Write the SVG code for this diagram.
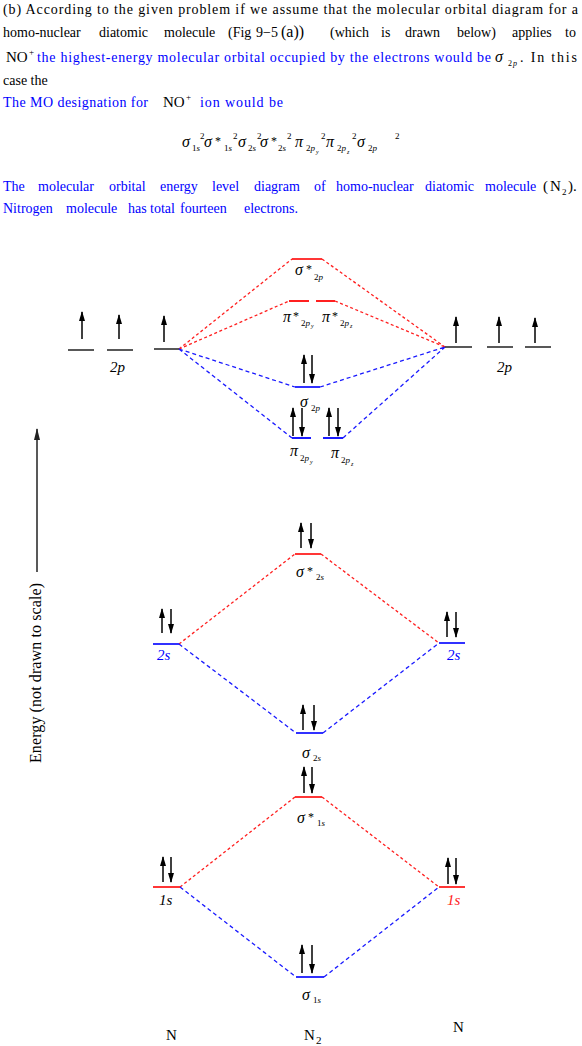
<svg xmlns="http://www.w3.org/2000/svg" width="582" height="1046" viewBox="0 0 582 1046" font-family="'Liberation Serif','Times New Roman',serif" font-size="14">
<style>
.b{fill:#0000ff}
.rt{fill:#ff2020}
.i{font-style:italic}
.sub{font-size:9px}
.ss{font-size:6px;font-style:italic}
.sym{font-size:16px;font-style:italic}
.st{font-size:12px}
.lab{font-size:15px;font-style:italic}
.lvr{stroke:#ff2020;stroke-width:1.8;fill:none}
.lvb{stroke:#1a1aff;stroke-width:1.8;fill:none}
.lvk{stroke:#222;stroke-width:1.6;fill:none}
.dr{stroke:#ff2020;stroke-width:1.3;stroke-dasharray:3 2.5;fill:none}
.db{stroke:#1a1aff;stroke-width:1.3;stroke-dasharray:4 3;fill:none}
.e{stroke:#000;stroke-width:1.5;fill:none;marker-end:url(#ah)}
</style>
<defs>
<marker id="ah" viewBox="0 0 10 6" refX="9" refY="3" markerWidth="10" markerHeight="6" markerUnits="userSpaceOnUse" orient="auto">
<path d="M0,0 L10,3 L0,6 z" fill="#000"/>
</marker>
<marker id="ah2" viewBox="0 0 12 6" refX="11" refY="3" markerWidth="12" markerHeight="6" markerUnits="userSpaceOnUse" orient="auto">
<path d="M0,0 L12,3 L0,6 z" fill="#222"/>
</marker>
</defs>

<g id="intro-text">
<text x="3" y="14" textLength="575" lengthAdjust="spacing">(b) According to the given problem if we assume that the molecular orbital diagram for a</text>
<text y="37"><tspan x="3">homo-nuclear</tspan><tspan x="99">diatomic</tspan><tspan x="164">molecule</tspan><tspan x="228">(Fig</tspan><tspan x="256">9−5</tspan><tspan x="281" font-size="16">(a))</tspan><tspan x="330">(which</tspan><tspan x="381">is</tspan><tspan x="405">drawn</tspan><tspan x="457">below)</tspan><tspan x="512">applies</tspan><tspan x="565">to</tspan></text>
<text x="6" y="62" font-size="15">NO</text>
<text x="29" y="55" font-size="9">+</text>
<text class="b" x="37" y="62" textLength="454" lengthAdjust="spacing">the highest-energy molecular orbital occupied by the electrons would be</text>
<text x="495" y="62" class="sym">σ</text>
<text x="508" y="66" font-size="8">2</text>
<text x="513" y="66" font-size="8" font-style="italic">p</text>
<text x="520" y="62" textLength="57" lengthAdjust="spacing">. In this</text>
<text x="3" y="85">case the</text>
<text class="b" x="3" y="107" textLength="145" lengthAdjust="spacing">The MO designation for</text>
<text x="163" y="107" font-size="15">NO</text>
<text x="186" y="100" font-size="9">+</text>
<text class="b" x="200" y="107" textLength="83" lengthAdjust="spacing">ion would be</text>
</g>

<g id="formula">
<text x="182" y="147" class="sym">σ</text><text x="192" y="151" class="sub">1<tspan class="i">s</tspan></text><text x="200" y="139" class="sub">2</text>
<text x="204" y="147" class="sym">σ</text><text x="215" y="145" class="st">*</text><text x="224" y="151" class="sub">1<tspan class="i">s</tspan></text><text x="233" y="139" class="sub">2</text>
<text x="238" y="147" class="sym">σ</text><text x="248" y="151" class="sub">2<tspan class="i">s</tspan></text><text x="257" y="139" class="sub">2</text>
<text x="260" y="147" class="sym">σ</text><text x="271" y="145" class="st">*</text><text x="278" y="151" class="sub">2<tspan class="i">s</tspan></text><text x="287" y="139" class="sub">2</text>
<text x="295" y="147" class="sym">π</text><text x="306" y="151" class="sub">2<tspan class="i">p</tspan></text><text x="316" y="154" class="ss">y</text><text x="321" y="139" class="sub">2</text>
<text x="326" y="147" class="sym">π</text><text x="337" y="151" class="sub">2<tspan class="i">p</tspan></text><text x="347" y="154" class="ss">z</text><text x="352" y="139" class="sub">2</text>
<text x="357" y="147" class="sym">σ</text><text x="368" y="151" class="sub">2<tspan class="i">p</tspan></text><text x="395" y="139" class="sub">2</text>
</g>

<g id="n2-text">
<text class="b" y="191"><tspan x="3">The</tspan><tspan x="38">molecular</tspan><tspan x="109">orbital</tspan><tspan x="160">energy</tspan><tspan x="212">level</tspan><tspan x="254">diagram</tspan><tspan x="314">of</tspan><tspan x="336">homo-nuclear</tspan><tspan x="425">diatomic</tspan><tspan x="485">molecule</tspan></text>
<text x="543" y="191" font-size="15">(</text>
<text x="550" y="191" font-size="15">N</text>
<text x="562" y="195" font-size="9">2</text>
<text x="568" y="191" font-size="15">).</text>
<text class="b" y="213"><tspan x="3">Nitrogen</tspan><tspan x="66">molecule</tspan><tspan x="128">has</tspan><tspan x="150">total</tspan><tspan x="180">fourteen</tspan><tspan x="244">electrons.</tspan></text>
</g>

<g id="connectors">
<path class="dr" d="M179,349 L292,259 M179,349 L289,301 M322,259 L445,347 M335,301 L445,347"/>
<path class="db" d="M179,349 L295,387 M179,349 L292,438 M320,387 L445,347 M343,438 L445,347"/>
<path class="dr" d="M179,644 L295,554 M321,554 L439,643"/>
<path class="db" d="M179,644 L296,733 M323,733 L439,643"/>
<path class="dr" d="M180,887 L295,797 M322,797 L439,887"/>
<path class="db" d="M180,887 L296,977 M324,977 L439,887"/>
</g>

<g id="N-left-2p">
<path class="lvk" d="M68,350 H94 M107,350 H133 M154,349 H179"/>
<path class="e" d="M82,339 V312"/><path class="e" d="M119,339 V315"/><path class="e" d="M164,342 V316"/>
<text x="110" y="372" class="lab">2p</text>
</g>

<g id="N-right-2p">
<path class="lvk" d="M445,347 H472 M487,347 H513 M525,347 H551"/>
<path class="e" d="M456,343 V317"/><path class="e" d="M499,343 V317"/><path class="e" d="M535,343 V318"/>
<text x="497" y="372" class="lab">2p</text>
</g>

<g id="sigma-star-2p">
<path class="lvr" d="M292,259 H322"/>
<text x="295" y="275" class="sym">σ</text><text x="306" y="273" class="st">*</text><text x="314" y="280" class="sub">2<tspan class="i">p</tspan></text>
</g>

<g id="pi-star-2p">
<path class="lvr" d="M289,301 H309 M316,301 H335"/>
<text x="283" y="322" class="sym">π</text><text x="293" y="320" class="st">*</text><text x="301" y="326" class="sub">2<tspan class="i">p</tspan></text><text x="311" y="328" class="ss">y</text>
<text x="322" y="322" class="sym">π</text><text x="332" y="320" class="st">*</text><text x="340" y="326" class="sub">2<tspan class="i">p</tspan></text><text x="350" y="328" class="ss">z</text>
</g>

<g id="sigma-2p">
<path class="lvb" d="M295,387 H320"/>
<path class="e" d="M304,383 V355"/><path class="e" d="M312,355 V383"/>
<text x="300" y="407" class="sym">σ</text><text x="311" y="411" class="sub">2<tspan class="i">p</tspan></text>
</g>

<g id="pi-2p">
<path class="lvb" d="M292,438 H311 M323,438 H343"/>
<path class="e" d="M293,436 V408"/><path class="e" d="M302,408 V436"/><path class="e" d="M329,436 V408"/><path class="e" d="M338,408 V436"/>
<text x="290" y="456" class="sym">π</text><text x="300" y="461" class="sub">2<tspan class="i">p</tspan></text><text x="310" y="464" class="ss">y</text>
<text x="331" y="458" class="sym">π</text><text x="341" y="463" class="sub">2<tspan class="i">p</tspan></text><text x="351" y="466" class="ss">z</text>
</g>

<g id="sigma-star-2s">
<path class="lvr" d="M295,554 H321"/>
<path class="e" d="M301,548 V523"/><path class="e" d="M311,523 V548"/>
<text x="296" y="577" class="sym">σ</text><text x="307" y="575" class="st">*</text><text x="316" y="580" class="sub">2<tspan class="i">s</tspan></text>
</g>

<g id="N-left-2s">
<path class="lvb" d="M153,644 H179"/>
<path class="e" d="M162,633 V609"/><path class="e" d="M171,609 V633"/>
<text x="157" y="660" class="lab b">2s</text>
</g>

<g id="N-right-2s">
<path class="lvb" d="M439,643 H465"/>
<path class="e" d="M447,637 V612"/><path class="e" d="M456,612 V637"/>
<text x="447" y="660" class="lab b">2s</text>
</g>

<g id="sigma-2s">
<path class="lvb" d="M296,733 H323"/>
<path class="e" d="M303,730 V705"/><path class="e" d="M314,705 V730"/>
<text x="302" y="758" class="sym">σ</text><text x="313" y="761" class="sub">2<tspan class="i">s</tspan></text>
</g>

<g id="sigma-star-1s">
<path class="lvr" d="M295,797 H322"/>
<path class="e" d="M304,793 V767"/><path class="e" d="M312,767 V793"/>
<text x="297" y="823" class="sym">σ</text><text x="308" y="821" class="st">*</text><text x="317" y="826" class="sub">1<tspan class="i">s</tspan></text>
</g>

<g id="N-left-1s">
<path class="lvr" d="M153,887 H180"/>
<path class="e" d="M163,882 V857"/><path class="e" d="M171,857 V882"/>
<text x="159" y="905" class="lab">1s</text>
</g>

<g id="N-right-1s">
<path class="lvr" d="M439,887 H465"/>
<path class="e" d="M448,884 V858"/><path class="e" d="M456,858 V884"/>
<text x="447" y="905" class="lab rt">1s</text>
</g>

<g id="sigma-1s">
<path class="lvb" d="M296,977 H324"/>
<path class="e" d="M302,973 V945"/><path class="e" d="M312,945 V973"/>
<text x="302" y="1000" class="sym">σ</text><text x="313" y="1003" class="sub">1<tspan class="i">s</tspan></text>
</g>

<g id="atom-labels">
<text x="166" y="1040" font-size="15">N</text>
<text x="304" y="1040" font-size="15">N</text><text x="316" y="1044" font-size="11">2</text>
<text x="453" y="1032" font-size="15">N</text>
</g>

<g id="energy-axis">
<path d="M37,572 V429" stroke="#222" stroke-width="1.5" fill="none" marker-end="url(#ah2)"/>
<text transform="translate(41,763) rotate(-90)" font-size="16" textLength="180" lengthAdjust="spacing">Energy (not drawn to scale)</text>
</g>
</svg>
